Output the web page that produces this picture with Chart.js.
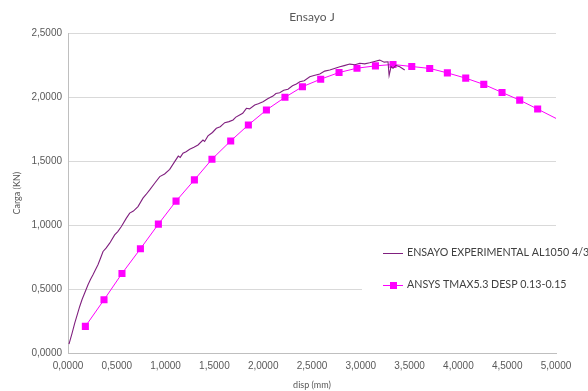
<!DOCTYPE html>
<html>
<head>
<meta charset="utf-8">
<script src="https://cdn.jsdelivr.net/npm/chart.js@4.4.0/dist/chart.umd.min.js"></script>
<style>
  html, body { margin: 0; padding: 0; background: #ffffff; }
  #wrap { width: 588px; height: 391px; position: relative; }
</style>
</head>
<body>
<div id="wrap"><canvas id="grafJ" width="588" height="391"></canvas></div>
<script>
// serie experimental
const expX = [0.010, 0.040, 0.069, 0.095, 0.120, 0.145, 0.171, 0.205, 0.230, 0.256, 0.280, 0.307, 0.335, 0.359, 0.390,
  0.427, 0.478, 0.510, 0.547, 0.598, 0.632, 0.670, 0.717, 0.768, 0.800, 0.837, 0.890, 0.940, 0.990, 1.042, 1.093,
  1.130, 1.150, 1.178, 1.210, 1.247, 1.290, 1.332, 1.383, 1.400, 1.434, 1.480, 1.520, 1.560, 1.606, 1.650, 1.691,
  1.720, 1.759, 1.790, 1.828, 1.860, 1.913, 1.950, 1.998, 2.050, 2.100, 2.130, 2.169, 2.210, 2.254, 2.300, 2.340,
  2.375, 2.420, 2.477, 2.520, 2.580, 2.630, 2.682, 2.730, 2.785, 2.830, 2.887, 2.940, 2.989, 3.040, 3.091, 3.140,
  3.194, 3.240, 3.279, 3.290, 3.310, 3.330, 3.360, 3.399, 3.450];
const expY = [0.070, 0.150, 0.234, 0.300, 0.364, 0.420, 0.469, 0.534, 0.575, 0.612, 0.650, 0.690, 0.745, 0.794, 0.820,
  0.859, 0.924, 0.950, 0.989, 1.055, 1.094, 1.110, 1.145, 1.211, 1.240, 1.276, 1.330, 1.380, 1.400, 1.437, 1.497,
  1.540, 1.530, 1.563, 1.575, 1.594, 1.610, 1.627, 1.666, 1.655, 1.698, 1.725, 1.758, 1.770, 1.802, 1.810, 1.823,
  1.845, 1.862, 1.875, 1.914, 1.910, 1.940, 1.950, 1.966, 1.990, 2.010, 2.030, 2.036, 2.055, 2.063, 2.090, 2.104,
  2.122, 2.130, 2.161, 2.170, 2.182, 2.205, 2.213, 2.225, 2.239, 2.248, 2.260, 2.255, 2.266, 2.262, 2.270, 2.280,
  2.291, 2.275, 2.278, 2.170, 2.240, 2.227, 2.250, 2.239, 2.214];

// serie ANSYS
const ansX = [0.178, 0.369, 0.553, 0.742, 0.926, 1.107, 1.295, 1.475, 1.667, 1.848, 2.033, 2.223, 2.402, 2.589,
  2.777, 2.961, 3.150, 3.330, 3.522, 3.706, 3.887, 4.075, 4.260, 4.447, 4.628, 4.812, 5.000];
const ansY = [0.208, 0.416, 0.622, 0.815, 1.008, 1.188, 1.354, 1.516, 1.659, 1.784, 1.901, 2.000, 2.083, 2.142,
  2.194, 2.228, 2.246, 2.257, 2.241, 2.226, 2.191, 2.150, 2.101, 2.038, 1.978, 1.908, 1.835];

const nombres = ["ENSAYO EXPERIMENTAL AL1050 4/3", "ANSYS TMAX5.3 DESP 0.13-0.15"];
const titulo = "Ensayo J";
const ejeX = "disp (mm)";
const ejeY = "Carga (KN)";

const colorExp = "#80207f";
const colorAns = "#ff00ff";

function fmt(v) { return Number(v).toFixed(4).replace(".", ","); }

const leyenda = {
  id: "leyenda",
  afterDraw(chart) {
    const ctx = chart.ctx;
    ctx.save();
    ctx.fillStyle = "#ffffff";
    ctx.fillRect(362, 236, 226, 66);
    ctx.font = "10.7px Lato";
    ctx.textBaseline = "middle";
    // item 1
    ctx.strokeStyle = colorExp; ctx.lineWidth = 1;
    ctx.beginPath(); ctx.moveTo(383, 253.5); ctx.lineTo(403, 253.5); ctx.stroke();
    ctx.fillStyle = "#404040";
    ctx.fillText(nombres[0], 407, 253);
    // item 2
    ctx.strokeStyle = colorAns;
    ctx.beginPath(); ctx.moveTo(383, 285.5); ctx.lineTo(403, 285.5); ctx.stroke();
    ctx.fillStyle = colorAns; ctx.fillRect(390, 282, 7, 7);
    ctx.fillStyle = "#404040";
    ctx.fillText(nombres[1], 407, 285);
    ctx.restore();
  }
};

window.addEventListener("DOMContentLoaded", function() {
  const ctx = document.getElementById("grafJ").getContext("2d");
  new Chart(ctx, {
    type: "scatter",
    data: {
      datasets: [
        { label: nombres[0], data: expX.map((x, i) => ({ x: x, y: expY[i] })), showLine: true,
          borderColor: colorExp, borderWidth: 1.1, pointRadius: 0, tension: 0 },
        { label: nombres[1], data: ansX.map((x, i) => ({ x: x, y: ansY[i] })), showLine: true,
          borderColor: colorAns, backgroundColor: colorAns, borderWidth: 1, pointStyle: "rect",
          pointRadius: c => (c.dataIndex === ansX.length - 1 ? 0 : 5), pointBorderWidth: 0, tension: 0 }
      ]
    },
    options: {
      responsive: false, animation: false,
      layout: { padding: { left: 0, right: 32, top: 0, bottom: 0 } },
      plugins: {
        legend: { display: false }, tooltip: { enabled: false },
        title: { display: true, text: titulo, fullSize: false, color: "#595959",
          font: { family: "Lato", size: 12, weight: "normal" }, padding: { top: 10, bottom: 9 } }
      },
      scales: {
        x: { type: "linear", min: 0, max: 5,
          afterFit: s => { s.height = 38; },
          ticks: { stepSize: 0.5, callback: fmt, color: "#595959", padding: 7, maxRotation: 0,
            font: { family: "Liberation Sans", size: 10 } },
          grid: { display: false, drawTicks: false },
          border: { display: true, color: "#bfbfbf" },
          title: { display: true, text: ejeX, color: "#595959", font: { family: "Lato", size: 9 },
            padding: { top: 0, bottom: 1 } } },
        y: { min: 0, max: 2.5,
          afterFit: s => { s.width = 68; },
          ticks: { stepSize: 0.5, callback: fmt, color: "#595959", padding: 6,
            font: { family: "Liberation Sans", size: 10 } },
          grid: { color: "#d9d9d9", drawTicks: false },
          border: { display: true, color: "#bfbfbf" },
          title: { display: true, text: ejeY, color: "#595959", font: { family: "Lato", size: 9 },
            padding: { top: 12, bottom: 0 } } }
      }
    },
    plugins: [leyenda]
  });
});
</script>
</body>
</html>
